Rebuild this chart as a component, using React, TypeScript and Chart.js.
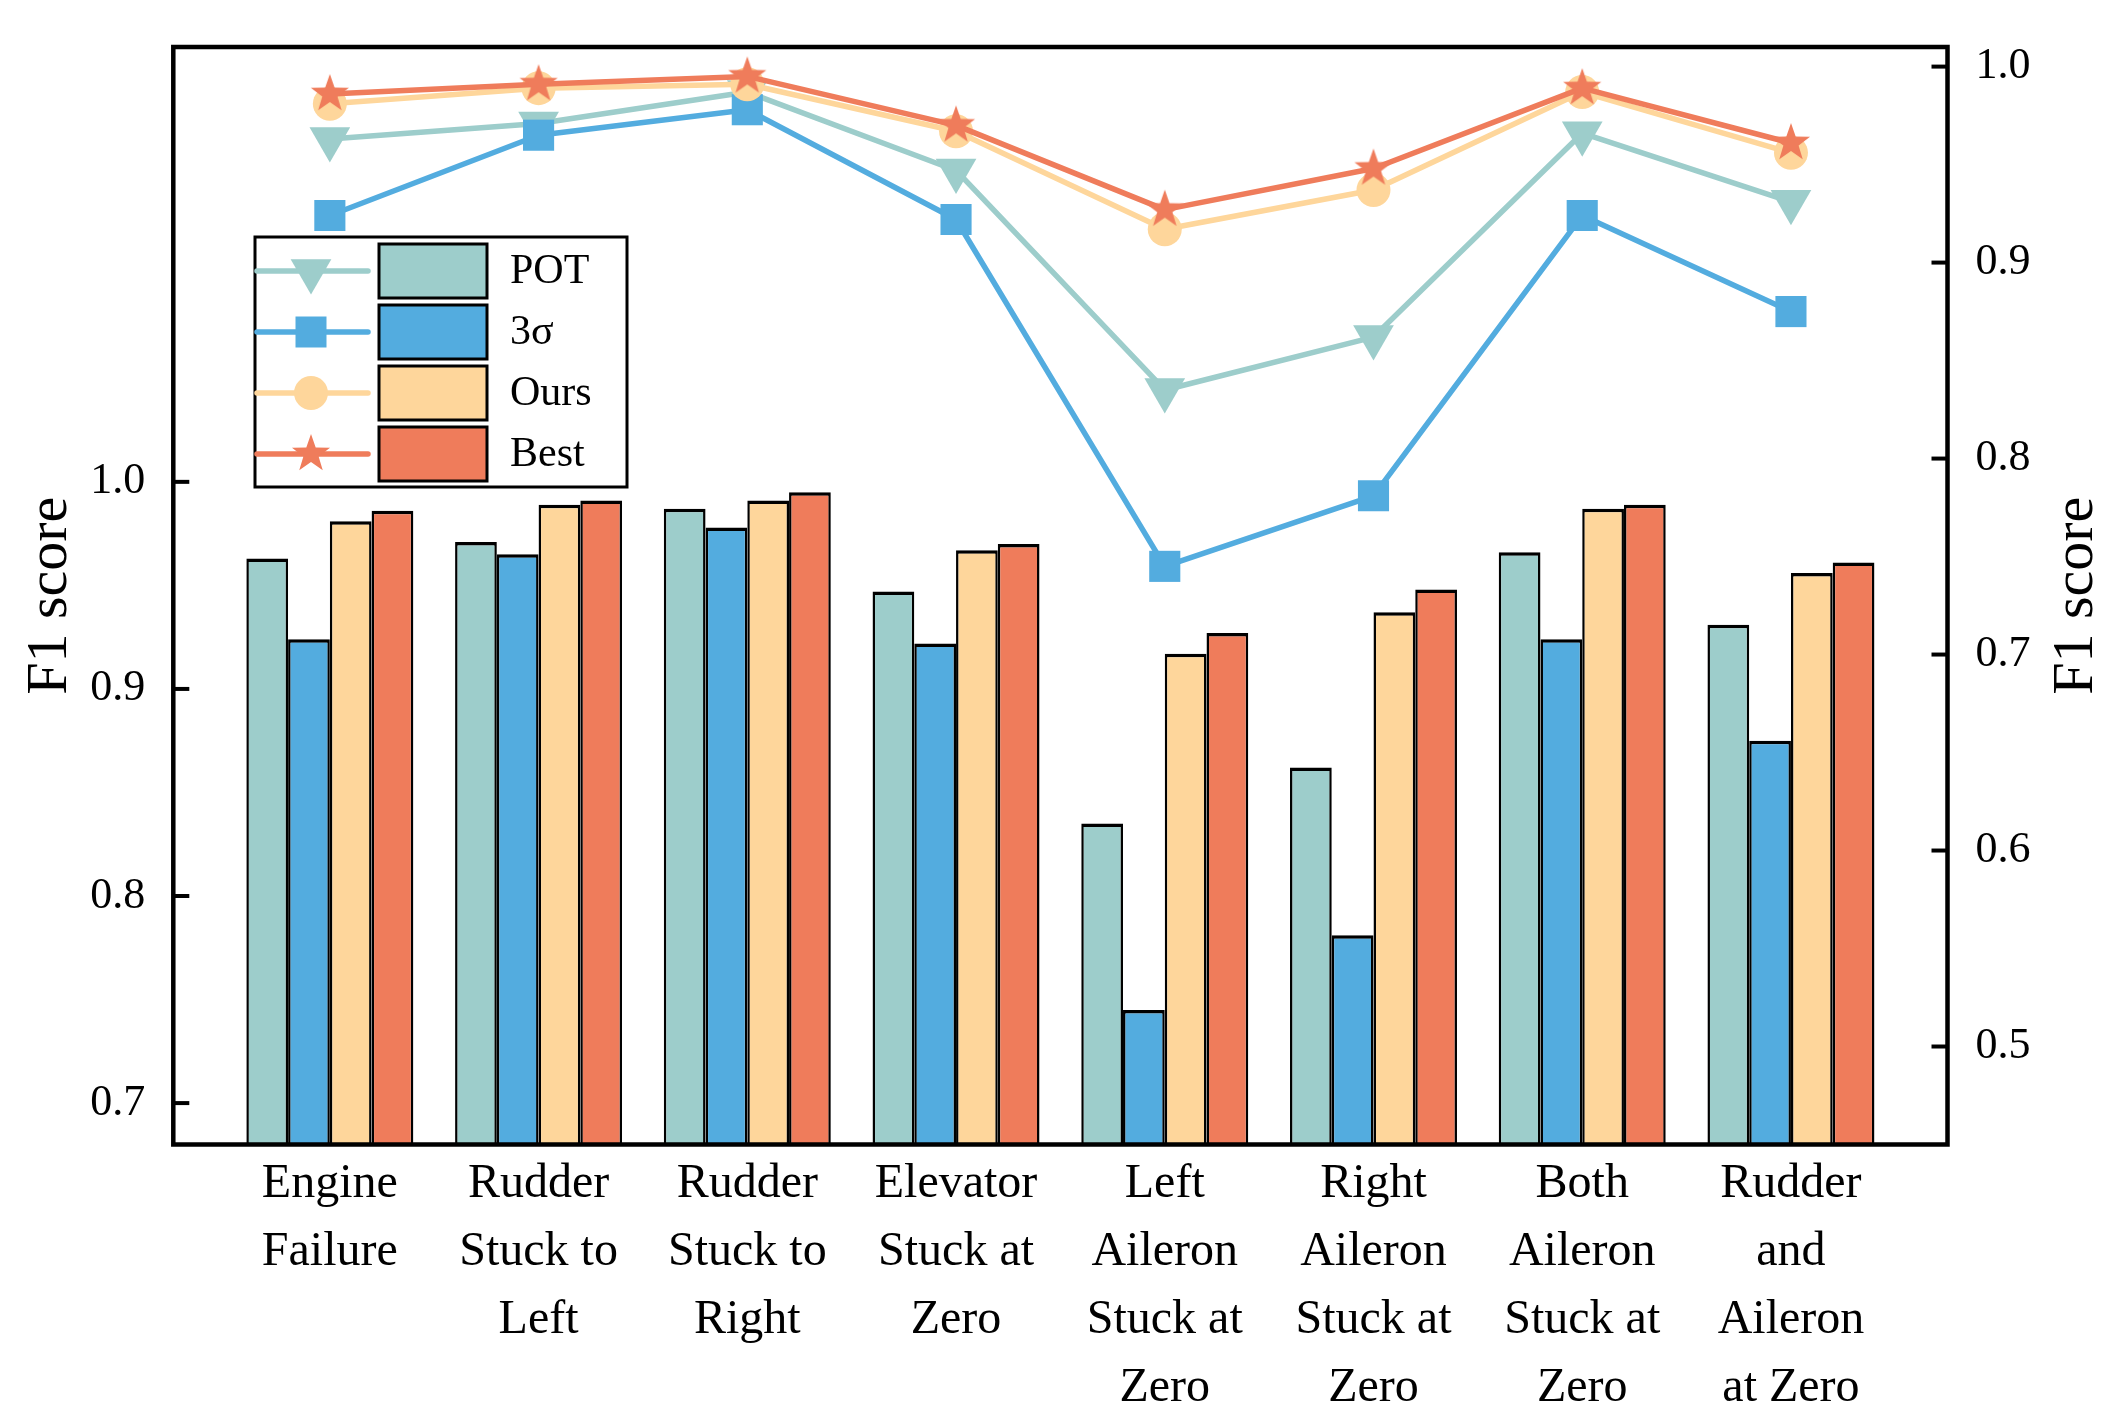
import React, { useEffect, useRef } from 'react';
import { Chart, registerables } from 'chart.js';

Chart.register(...registerables);

// ---------- data ----------
const categories: string[][] = [
  ['Engine', 'Failure'],
  ['Rudder', 'Stuck to', 'Left'],
  ['Rudder', 'Stuck to', 'Right'],
  ['Elevator', 'Stuck at', 'Zero'],
  ['Left', 'Aileron', 'Stuck at', 'Zero'],
  ['Right', 'Aileron', 'Stuck at', 'Zero'],
  ['Both', 'Aileron', 'Stuck at', 'Zero'],
  ['Rudder', 'and', 'Aileron', 'at Zero'],
];
const seriesNames = ['POT', '3σ', 'Ours', 'Best'];
const potValues = [0.963, 0.971, 0.987, 0.947, 0.835, 0.862, 0.966, 0.931];
const sigmaValues = [0.924, 0.965, 0.978, 0.922, 0.745, 0.781, 0.924, 0.875];
const oursValues = [0.981, 0.989, 0.991, 0.967, 0.917, 0.937, 0.987, 0.956];
const bestValues = [0.986, 0.991, 0.995, 0.970, 0.927, 0.948, 0.989, 0.961];
const leftTicks = [0.7, 0.8, 0.9, 1.0];
const rightTicks = [0.5, 0.6, 0.7, 0.8, 0.9, 1.0];
const axisTitle = 'F1 score';

// ---------- styles ----------
const colors = ['#9DCDCB', '#53ACDF', '#FED69B', '#EF7C5B'];
const FONT = '"Liberation Serif", "Times New Roman", serif';
const W = 2122;
const H = 1426;

function makeStar(R: number, color: string): HTMLCanvasElement {
  const s = Math.ceil(R * 2 + 4);
  const c = document.createElement('canvas');
  c.width = s;
  c.height = s;
  const ctx = c.getContext('2d')!;
  ctx.fillStyle = color;
  ctx.beginPath();
  const r = R * 0.4;
  for (let i = 0; i < 10; i++) {
    const a = -Math.PI / 2 + (i * Math.PI) / 5;
    const rr = i % 2 === 0 ? R : r;
    const px = s / 2 + rr * Math.cos(a);
    const py = s / 2 + rr * Math.sin(a);
    if (i === 0) ctx.moveTo(px, py);
    else ctx.lineTo(px, py);
  }
  ctx.closePath();
  ctx.fill();
  return c;
}

function drawMarker(ctx: CanvasRenderingContext2D, kind: number, x: number, y: number, color: string, star: HTMLCanvasElement) {
  ctx.save();
  ctx.fillStyle = color;
  ctx.beginPath();
  if (kind === 0) {
    const r = 23.5;
    ctx.moveTo(x, y + r);
    ctx.lineTo(x + r * Math.cos(Math.PI / 6), y - r / 2);
    ctx.lineTo(x - r * Math.cos(Math.PI / 6), y - r / 2);
    ctx.closePath();
    ctx.fill();
  } else if (kind === 1) {
    const h = 15.5;
    ctx.rect(x - h, y - h, 2 * h, 2 * h);
    ctx.fill();
  } else if (kind === 2) {
    ctx.arc(x, y, 17, 0, Math.PI * 2);
    ctx.fill();
  } else {
    ctx.drawImage(star, x - star.width / 2, y - star.height / 2);
  }
  ctx.restore();
}

export default function App() {
  const ref = useRef<HTMLCanvasElement | null>(null);

  useEffect(() => {
    document.body.style.margin = '0';
    const canvas = ref.current;
    if (!canvas) return;

    const star = makeStar(20, colors[3]);
    const legendStar = makeStar(20, colors[3]);
    const allValues = [potValues, sigmaValues, oursValues, bestValues];
    const pointStyles: any[] = ['triangle', 'rect', 'circle', star];
    const pointRadii = [23.5, 22, 17, 20];
    const pointRotations = [180, 0, 0, 0];

    const lineSets = allValues.map((vals, k) => ({
      type: 'line' as const,
      label: seriesNames[k] + ' line',
      yAxisID: 'y2',
      xAxisID: 'x',
      data: vals.map((v, i) => ({ x: i, y: v })),
      borderColor: colors[k],
      backgroundColor: colors[k],
      borderWidth: 5.5,
      borderJoinStyle: 'round' as const,
      tension: 0,
      pointStyle: pointStyles[k],
      pointRadius: pointRadii[k],
      pointRotation: pointRotations[k],
      pointBackgroundColor: colors[k],
      pointBorderColor: colors[k],
      pointBorderWidth: 0,
      order: 4 - k,
      clip: false as any,
    }));

    const barSets = allValues.map((vals, k) => ({
      type: 'bar' as const,
      label: seriesNames[k],
      yAxisID: 'y',
      xAxisID: 'x',
      data: vals.map((v, i) => ({ x: i, y: v })),
      backgroundColor: colors[k],
      borderColor: '#000000',
      borderWidth: { top: 3.5, left: 2.5, right: 2.5, bottom: 0 },
      categoryPercentage: 0.8,
      barPercentage: 1.0,
      order: 10,
    }));

    const framePlugin = {
      id: 'frameAndLegend',
      afterDraw(chart: any) {
        const ctx: CanvasRenderingContext2D = chart.ctx;
        const a = chart.chartArea;
        ctx.save();
        // inward tick marks
        ctx.strokeStyle = '#000';
        ctx.lineWidth = 4;
        const ys = chart.scales.y;
        ys.ticks.forEach((t: any) => {
          const py = ys.getPixelForValue(t.value);
          ctx.beginPath();
          ctx.moveTo(a.left, py);
          ctx.lineTo(a.left + 16, py);
          ctx.stroke();
        });
        const ys2 = chart.scales.y2;
        ys2.ticks.forEach((t: any) => {
          const py = ys2.getPixelForValue(t.value);
          ctx.beginPath();
          ctx.moveTo(a.right, py);
          ctx.lineTo(a.right - 16, py);
          ctx.stroke();
        });
        // frame
        ctx.lineWidth = 4.5;
        ctx.strokeRect(a.left, a.top, a.right - a.left, a.bottom - a.top);

        // right axis title (reads bottom-to-top)
        ctx.fillStyle = '#000';
        ctx.font = `58px ${FONT}`;
        ctx.textAlign = 'center';
        ctx.textBaseline = 'middle';
        ctx.save();
        ctx.translate(2077, (a.top + a.bottom) / 2);
        ctx.rotate(-Math.PI / 2);
        ctx.fillText(axisTitle, 0, 0);
        ctx.restore();

        // legend
        const bx = 255, by = 237, bw = 372, bh = 250;
        ctx.fillStyle = '#fff';
        ctx.fillRect(bx, by, bw, bh);
        ctx.lineWidth = 3;
        ctx.strokeStyle = '#000';
        ctx.strokeRect(bx, by, bw, bh);
        const rowY = [271, 332, 393, 454];
        for (let k = 0; k < 4; k++) {
          const y = rowY[k];
          ctx.strokeStyle = colors[k];
          ctx.lineWidth = 5.5;
          ctx.lineCap = 'round';
          ctx.beginPath();
          ctx.moveTo(257, y);
          ctx.lineTo(368, y);
          ctx.stroke();
          ctx.lineCap = 'butt';
          drawMarker(ctx, k, 311, y, colors[k], legendStar);
          ctx.fillStyle = colors[k];
          ctx.fillRect(379, y - 27, 108, 54);
          ctx.strokeStyle = '#000';
          ctx.lineWidth = 3;
          ctx.strokeRect(379, y - 27, 108, 54);
          ctx.fillStyle = '#000';
          ctx.font = `42px ${FONT}`;
          ctx.textAlign = 'left';
          ctx.textBaseline = 'middle';
          ctx.fillText(seriesNames[k], 510, y + 1);
        }
        ctx.restore();
      },
    };

    const chart = new Chart(canvas, {
      data: { datasets: [...lineSets, ...barSets] as any },
      options: {
        responsive: false,
        animation: false,
        devicePixelRatio: 1,
        layout: { padding: { top: 47, left: 0, right: 0, bottom: 0 } },
        plugins: { legend: { display: false }, tooltip: { enabled: false } },
        scales: {
          x: {
            type: 'linear',
            min: -0.75,
            max: 7.75,
            offset: false,
            bounds: 'data',
            afterBuildTicks: (axis: any) => {
              axis.ticks = categories.map((_, i) => ({ value: i }));
            },
            afterFit: (s: any) => {
              s.height = H - 1144.5;
            },
            ticks: {
              callback: (v: any) => categories[Math.round(Number(v))] ?? '',
              font: { family: FONT, size: 48, lineHeight: 1.417 },
              color: '#000',
              padding: -2,
              maxRotation: 0,
              minRotation: 0,
              autoSkip: false,
            },
            grid: { display: false, offset: false },
            border: { display: false },
          },
          y: {
            type: 'linear',
            position: 'left',
            min: 0.68,
            max: 1.21,
            afterBuildTicks: (axis: any) => {
              axis.ticks = leftTicks.map((v) => ({ value: v }));
            },
            afterFit: (s: any) => {
              s.width = 173.3;
            },
            ticks: {
              callback: (v: any) => Number(v).toFixed(1),
              font: { family: FONT, size: 44 },
              color: '#000',
              padding: 20,
            },
            title: {
              display: true,
              text: axisTitle,
              font: { family: FONT, size: 58, lineHeight: 1.2 },
              color: '#000',
              padding: { top: 16, bottom: 0 },
            },
            grid: { display: false },
            border: { display: false },
          },
          y2: {
            type: 'linear',
            position: 'right',
            min: 0.45,
            max: 1.01,
            afterBuildTicks: (axis: any) => {
              axis.ticks = rightTicks.map((v) => ({ value: v }));
            },
            afterFit: (s: any) => {
              s.width = W - 1947.5;
            },
            ticks: {
              callback: (v: any) => Number(v).toFixed(1),
              font: { family: FONT, size: 44 },
              color: '#000',
              padding: 20,
            },
            grid: { display: false },
            border: { display: false },
          },
        },
      } as any,
      plugins: [framePlugin],
    });

    return () => {
      chart.destroy();
    };
  }, []);

  return (
    <div style={{ width: W, height: H, background: '#fff' }}>
      <canvas ref={ref} width={W} height={H} style={{ width: W, height: H, display: 'block' }} />
    </div>
  );
}
